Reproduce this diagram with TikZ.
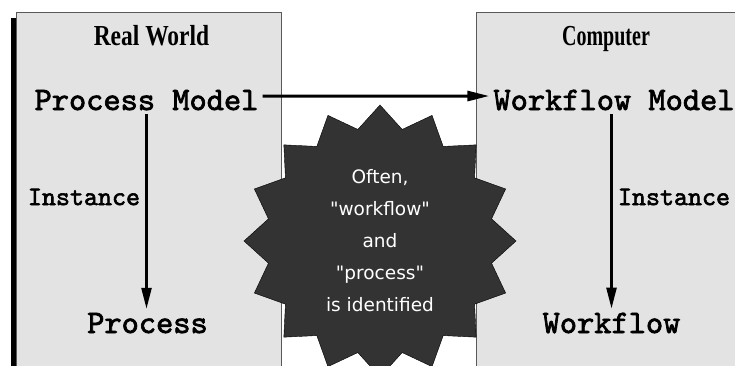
\documentclass[tikz,border=0pt]{standalone}
\usepackage{fontspec}
\usepackage{graphicx}
\usetikzlibrary{positioning, arrows.meta, shapes.geometric}
\newfontfamily\headfont{Liberation Serif}
\newfontfamily\burstfont{DejaVu Sans}
\newfontfamily\codefont{lmmono10-regular.otf}[FakeBold=2.2]
\definecolor{panelgray}{HTML}{E3E3E3}
\definecolor{burstgray}{HTML}{333333}
\newcommand\squeeze[2]{\scalebox{#1}[1]{#2}}
\tikzset{
  panel/.style={
      draw=black!65,
      line width=0.8pt,
      fill=panelgray
    },
  head/.style={
      font=\headfont\bfseries\fontsize{29}{29}\selectfont,
      anchor=base,
      inner sep=0pt
    },
  model/.style={
      font=\codefont\fontsize{32.8}{34}\selectfont,
      anchor=base,
      inner sep=4pt
    },
  inst/.style={
      font=\codefont\fontsize{26.7}{28}\selectfont,
      inner sep=0pt
    },
  burst/.style={
      star,
      star points=16,
      star point ratio=1.196,
      minimum size=272pt,
      inner sep=0pt,
      fill=burstgray,
      draw=black,
      thin,
      text=white,
      align=center,
      font=\burstfont\fontsize{18.5}{32}\selectfont
    },
  arr/.style={
      -{Triangle[length=22pt,width=10pt]},
      line width=3pt
    },
  inarr/.style={
      -{Triangle[length=21pt,width=10pt]},
      line width=2.5pt
    }
}
\begin{document}
\begin{tikzpicture}[x=1pt, y=-1pt]
  \useasboundingbox (0,0) rectangle (735,365);
  \clip (0,0) rectangle (735,365);
  \fill[black] (11,18) rectangle (16,380);
  \draw[panel] (16,12) rectangle (281,380);
  \draw[panel] (476,12) rectangle (750,380);
  \node[head] (real) at (151.5,45) {\squeeze{0.81}{Real World}};
  \node[head] (comp) at (606,45) {\squeeze{0.69}{Computer}};
  \node[model] (pm) at (146.5,110) {Process Model};
  \node[model] (wm) at (614,110) {Workflow Model};
  \node[model] (proc) at (147.5,333) {Process};
  \node[model] (wf) at (611.5,333) {Workflow};
  \node[inst] (inl) at (84,197) {Instance};
  \node[inst] (inr) at (674,197) {Instance};
  \draw[arr] ([yshift=4pt]pm.east) -- ([yshift=4pt]wm.west);
  \draw[inarr] (pm.south) -- (pm.south |- proc.north);
  \draw[inarr] (wf.north |- wm.south) -- (wf.north);
  \node[burst] (note) at (380,241) {Often,\\"workflow"\\and\\"process"\\is identified};
\end{tikzpicture}
\end{document}
